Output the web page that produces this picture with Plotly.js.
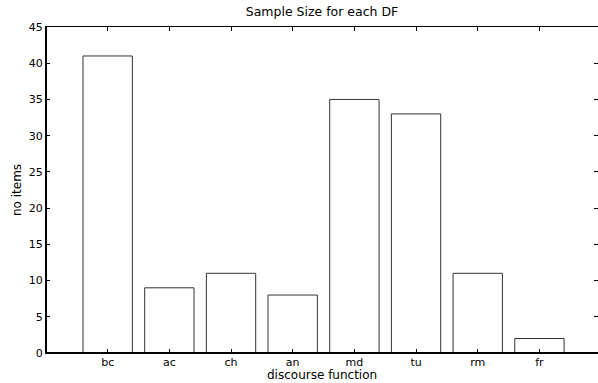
<!DOCTYPE html>
<html>
<head>
<meta charset="utf-8">
<script src="https://cdn.plot.ly/plotly-3.0.1.min.js"></script>
<style>html,body{margin:0;padding:0;background:#fff;}#chart{width:598px;height:383px;}</style>
</head>
<body>
<div id="chart"></div>
<script>
const categories = ["bc", "ac", "ch", "an", "md", "tu", "rm", "fr"];
const positions = [1, 2, 3, 4, 5, 6, 7, 8];
const counts = [41, 9, 11, 8, 35, 33, 11, 2];
const yTicks = [0, 5, 10, 15, 20, 25, 30, 35, 40, 45];

const fam = "DejaVu Sans, Arial, sans-serif";
const tickFont = {family: fam, size: 11, color: "#000"};
const titleFont = {family: fam, size: 12, color: "#000"};

Plotly.newPlot("chart", [{
  type: "bar",
  x: positions,
  y: counts,
  width: 0.8,
  marker: {color: "#ffffff", line: {color: "#333333", width: 1}},
  hoverinfo: "none"
}], {
  width: 598, height: 383,
  margin: {l: 46, r: 0, t: 27, b: 30, pad: 0},
  paper_bgcolor: "#fff", plot_bgcolor: "#fff",
  font: tickFont,
  showlegend: false,
  title: {text: "Sample Size for each DF", font: {family: fam, size: 12.5, color: "#000"}, x: 0.5, xref: "paper", y: 0.981, yref: "container", yanchor: "top"},
  xaxis: {
    range: [0, 8.95], tickmode: "array", tickvals: positions, ticktext: categories,
    ticks: "inside", ticklen: 4, tickcolor: "#000", showline: true, linecolor: "#000", linewidth: 1,
    mirror: "ticks", showgrid: false, zeroline: false, fixedrange: true,
    ticklabelstandoff: -1,
    tickfont: tickFont
  },
  yaxis: {
    range: [0, 45], tickmode: "array", tickvals: yTicks,
    ticks: "inside", ticklen: 4, tickcolor: "#000", showline: true, linecolor: "#000", linewidth: 1,
    mirror: "ticks", showgrid: false, zeroline: false, fixedrange: true,
    title: {text: "no items", font: titleFont, standoff: 4},
    tickfont: tickFont
  },
  annotations: [
    {text: "discourse function", xref: "paper", yref: "paper", x: 0.5, y: -0.0905, xanchor: "center", yanchor: "bottom",
     showarrow: false, font: titleFont, borderpad: 0}
  ],
  shapes: [
    {type: "line", xref: "paper", yref: "paper", x0: 0, x1: 1, y0: 0, y1: 0, line: {color: "#000", width: 2}},
    {type: "line", xref: "paper", yref: "paper", x0: 0, x1: 0, y0: 0, y1: 1, line: {color: "#000", width: 2}}
  ]
}, {displayModeBar: false, staticPlot: true});
</script>
</body>
</html>
